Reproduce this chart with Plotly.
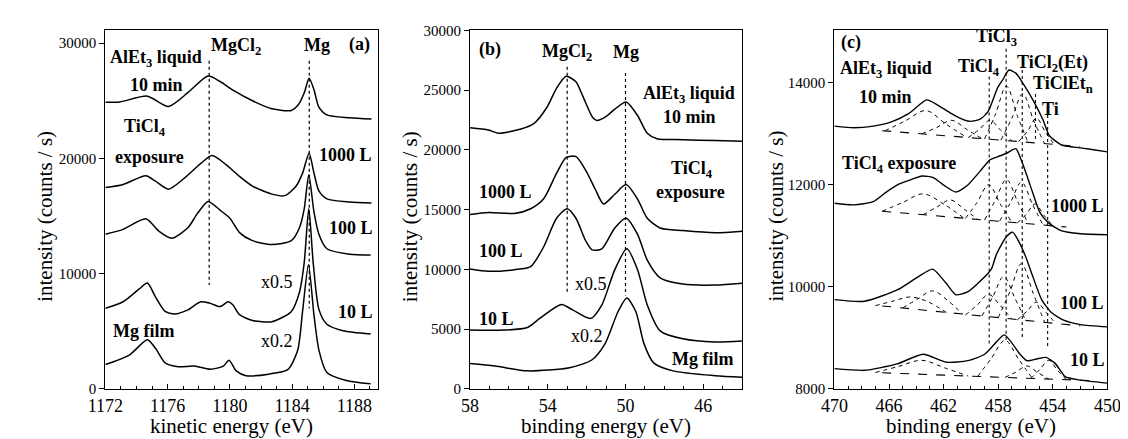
import plotly.graph_objects as go

W, H = 1128, 439
FONT = "Liberation Serif"

# ---------------- Panel (a): kinetic energy ----------------
a_alet_x = [1172.0, 1172.93, 1174.7, 1176.05, 1177.3, 1178.6, 1179.37, 1180.2, 1181.45, 1182.7, 1183.95, 1184.36, 1184.78, 1185.09, 1185.4, 1185.72, 1186.23, 1187.69, 1189.1]
a_alet_y = [24860, 24900, 25400, 24500, 25700, 27150, 26670, 25920, 25000, 24300, 24160, 24580, 25700, 26950, 25970, 24440, 23770, 23520, 23410]

a_1000_x = [1172.0, 1173.14, 1174.6, 1175.22, 1176.05, 1177.09, 1178.13, 1178.86, 1179.79, 1180.62, 1181.45, 1182.7, 1183.53, 1184.26, 1184.67, 1185.09, 1185.4, 1185.72, 1186.23, 1187.69, 1189.1]
a_1000_y = [17470, 17740, 18500, 18020, 17330, 18300, 19560, 20250, 19420, 18440, 17600, 16900, 16770, 17600, 18720, 20450, 18750, 17180, 16490, 16210, 16130]

a_100_x = [1172.0, 1173.14, 1174.6, 1175.43, 1176.26, 1177.3, 1177.92, 1178.6, 1179.37, 1180.0, 1180.62, 1181.45, 1182.7, 1183.95, 1184.47, 1184.78, 1185.07, 1185.4, 1185.72, 1186.23, 1187.69, 1189.04]
a_100_y = [13420, 13840, 14760, 13700, 13080, 13980, 15230, 16260, 15510, 14810, 13560, 12860, 12530, 12860, 13980, 15650, 18580, 15380, 13420, 12160, 11690, 11610]

a_10_x = [1172.0, 1173.14, 1174.18, 1174.7, 1175.22, 1175.84, 1176.46, 1177.3, 1178.13, 1178.75, 1179.37, 1179.89, 1180.2, 1180.62, 1181.45, 1182.7, 1183.95, 1184.47, 1184.78, 1185.07, 1185.35, 1185.72, 1186.23, 1187.27, 1189.04]
a_10_y = [7000, 7560, 8680, 9180, 7980, 6720, 6500, 6860, 7560, 7420, 7140, 7560, 7280, 6440, 5940, 5830, 6720, 8390, 11000, 15650, 11000, 6900, 5610, 5050, 4770]

a_mg_x = [1172.0, 1173.56, 1174.7, 1175.22, 1175.84, 1176.67, 1177.71, 1178.75, 1179.58, 1179.94, 1180.41, 1181.04, 1182.49, 1183.74, 1184.36, 1184.67, 1185.05, 1185.4, 1185.72, 1186.23, 1187.48, 1189.04]
a_mg_y = [2120, 2960, 4270, 3520, 2260, 1930, 1980, 1700, 1980, 2480, 1560, 1150, 1280, 1700, 3370, 6720, 10770, 6440, 3370, 1420, 730, 440]

a_ref_x = [1178.67, 1185.1]
a_ref_top = [28480, 28480]
a_ref_bot = [9010, 7000]

# ---------------- Panel (b): Mg 2p binding energy ----------------
b_alet_x = [58.0, 57.05, 56.55, 55.38, 54.72, 54.05, 53.55, 53.05, 52.55, 52.3, 52.05, 51.7, 51.47, 51.05, 50.55, 49.97, 49.38, 48.88, 48.38, 47.05, 45.38, 44.0]
b_alet_y = [21860, 21670, 21400, 21750, 22200, 23550, 25160, 26160, 25700, 24890, 23950, 22740, 22470, 22740, 23410, 24010, 22880, 21400, 20940, 20860, 20780, 20730]

b_1000_x = [58.0, 57.05, 55.72, 54.88, 54.22, 53.55, 53.05, 52.55, 52.05, 51.55, 51.13, 50.55, 49.97, 49.38, 48.88, 48.22, 47.05, 45.38, 44.0]
b_1000_y = [14600, 14760, 14680, 15080, 15890, 18040, 19380, 19440, 18310, 16690, 15480, 16290, 17100, 15890, 14280, 13470, 13250, 13070, 13200]

b_100_x = [58.0, 57.05, 55.72, 54.88, 54.22, 53.55, 53.0, 52.55, 52.05, 51.72, 51.22, 50.55, 49.97, 49.38, 48.88, 48.22, 47.05, 45.38, 44.0]
b_100_y = [10030, 9840, 9980, 10240, 11860, 14280, 15080, 14280, 12400, 11640, 11720, 13470, 14280, 12930, 10780, 9300, 8770, 8690, 8850]

b_10_x = [58.0, 56.25, 55.05, 54.38, 53.3, 52.72, 51.8, 51.22, 50.55, 49.93, 49.38, 48.88, 48.22, 47.05, 45.38, 44.0]
b_10_y = [4920, 4920, 5140, 5940, 7070, 6610, 5890, 7020, 9980, 11720, 9980, 7020, 4860, 4190, 3930, 4010]

b_mg_x = [58.0, 56.72, 55.05, 52.88, 51.72, 51.05, 50.38, 49.93, 49.47, 49.05, 48.55, 47.55, 45.38, 44.0]
b_mg_y = [2120, 1910, 1510, 1770, 2440, 3790, 6480, 7600, 6480, 3790, 2180, 1510, 1100, 970]

b_ref_x = [53.0, 50.0]
b_ref_top = [26960, 26430]
b_ref_bot = [7880, 7820]

# ---------------- Panel (c): Ti 2p binding energy ----------------
c_alet_x = [470.0, 468.58, 467.15, 465.73, 464.54, 463.24, 462.41, 461.46, 460.51, 460.04, 459.32, 458.75, 458.04, 457.66, 457.21, 456.71, 456.14, 455.43, 454.72, 454.25, 453.3, 452.44, 451.26, 450.0]
c_alet_y = [13146, 13114, 13146, 13240, 13397, 13661, 13554, 13397, 13270, 13240, 13284, 13429, 13900, 14057, 14246, 14184, 13963, 13647, 13270, 12957, 12768, 12736, 12693, 12642]

c_1000_x = [470.0, 468.58, 467.15, 466.2, 465.25, 464.3, 463.59, 462.76, 461.94, 461.1, 460.27, 459.32, 458.61, 458.02, 457.42, 456.71, 456.36, 455.89, 455.41, 454.93, 454.34, 453.4, 451.97, 450.0]
c_1000_y = [11636, 11604, 11667, 11855, 12014, 12108, 12170, 12138, 11982, 11855, 11982, 12265, 12485, 12548, 12610, 12705, 12516, 12170, 11793, 11447, 11258, 11100, 11038, 11019]

c_100_x = [470.0, 467.8, 465.4, 463.9, 462.8, 461.8, 461.1, 460.2, 459.25, 458.5, 458.14, 457.42, 456.95, 456.48, 456.0, 455.53, 454.82, 454.11, 453.16, 451.97, 450.0]
c_100_y = [9749, 9717, 9937, 10189, 10346, 10063, 9843, 9906, 10126, 10346, 10629, 10976, 11070, 10881, 10598, 10251, 9749, 9496, 9340, 9259, 9214]

c_10_x = [470.0, 467.8, 465.4, 463.5, 461.8, 460.2, 459.0, 458.3, 457.55, 456.4, 455.9, 455.2, 454.5, 453.8, 453.1, 452.1, 450.0]
c_10_y = [8396, 8364, 8490, 8679, 8522, 8553, 8679, 8868, 9057, 8679, 8553, 8585, 8617, 8490, 8240, 8176, 8113]

# fitted backgrounds (long dashes)
c_bg = [
    ([466.5, 452.0], [13057, 12748]),
    ([466.5, 453.0], [11480, 11170]),
    ([466.5, 452.0], [9625, 9234]),
    ([466.5, 451.0], [8315, 8160]),
]

# fitted components (short dashes)
c_comp_alet = [
    ([466.3, 464.8, 463.3, 461.8, 460.3], [13053, 13250, 13450, 13180, 12924]),
    ([463.6, 462.5, 461.4, 460.3, 459.2], [12995, 13120, 13260, 13080, 12903]),
    ([460.2, 459.4, 458.6, 457.8, 457.0], [12922, 13080, 13260, 13060, 12855]),
    ([459.0, 458.2, 457.4, 456.6, 455.8], [12897, 13380, 13930, 13350, 12820]),
    ([457.8, 457.0, 456.2, 455.4, 454.6], [12872, 13300, 13780, 13250, 12800]),
    ([456.5, 455.85, 455.2, 454.55, 453.9], [12844, 13050, 13300, 13030, 12787]),
]
c_comp_1000 = [
    ([466.5, 465.0, 463.5, 462.0, 460.5], [11480, 11650, 11820, 11620, 11342]),
    ([463.5, 462.5, 461.5, 460.5, 459.5], [11411, 11560, 11700, 11520, 11320]),
    ([460.4, 459.55, 458.7, 457.85, 457.0], [11340, 11650, 12000, 11620, 11262]),
    ([459.0, 458.2, 457.4, 456.6, 455.8], [11308, 11700, 12100, 11680, 11235]),
    ([457.9, 457.1, 456.3, 455.5, 454.7], [11287, 11650, 12050, 11620, 11200]),
    ([456.6, 455.95, 455.3, 454.65, 454.0], [11250, 11420, 11620, 11400, 11193]),
]
c_comp_100 = [
    ([467.0, 465.7, 464.4, 463.1, 461.8], [9630, 9720, 9800, 9700, 9497]),
    ([465.0, 463.9, 462.8, 461.7, 460.6], [9585, 9760, 9920, 9730, 9465]),
    ([460.4, 459.55, 458.7, 457.85, 457.0], [9447, 9640, 9850, 9630, 9368]),
    ([459.2, 458.4, 457.6, 456.8, 456.0], [9428, 9800, 10200, 9790, 9342]),
    ([458.0, 457.15, 456.3, 455.45, 454.6], [9396, 9900, 10450, 9880, 9304]),
    ([456.6, 455.9, 455.2, 454.5, 453.8], [9352, 9520, 9700, 9500, 9282]),
]
c_comp_10 = [
    ([467.0, 465.3, 463.6, 461.9, 460.2], [8320, 8440, 8560, 8410, 8252]),
    ([459.5, 458.5, 457.5, 456.5, 455.5], [8245, 8600, 8950, 8580, 8205]),
    ([457.5, 456.7, 455.9, 455.1, 454.3], [8225, 8330, 8450, 8320, 8193]),
    ([455.6, 454.95, 454.3, 453.65, 453.0], [8206, 8380, 8560, 8360, 8180]),
]

c_ref_x = [458.66, 457.42, 456.24, 455.27, 454.38]
c_ref_top = [14120, 14660, 14246, 13774, 13365]
c_ref_bot = [8870, 8960, 8960, 12900, 8836]

# ---------------- Figure ----------------
fig = go.Figure()


def curve(x, y, xa, ya, width=1.5, dash="solid", smoothing=0.7, shape="spline"):
    line = dict(color="black", width=width, dash=dash, shape=shape)
    if shape == "spline":
        line["smoothing"] = smoothing
    fig.add_trace(go.Scatter(x=x, y=y, xaxis=xa, yaxis=ya, mode="lines",
                             line=line, hoverinfo="skip", showlegend=False))


for xs, ys in [(a_alet_x, a_alet_y), (a_1000_x, a_1000_y), (a_100_x, a_100_y),
               (a_10_x, a_10_y), (a_mg_x, a_mg_y)]:
    curve(xs, ys, "x", "y")
for xv, t, b in zip(a_ref_x, a_ref_top, a_ref_bot):
    curve([xv, xv], [t, b], "x", "y", width=1.2, dash="dot", shape="linear")

for xs, ys in [(b_alet_x, b_alet_y), (b_1000_x, b_1000_y), (b_100_x, b_100_y),
               (b_10_x, b_10_y), (b_mg_x, b_mg_y)]:
    curve(xs, ys, "x2", "y2")
for xv, t, b in zip(b_ref_x, b_ref_top, b_ref_bot):
    curve([xv, xv], [t, b], "x2", "y2", width=1.2, dash="dot", shape="linear")

for xs, ys in c_bg:
    curve(xs, ys, "x3", "y3", width=1.1, dash="dash", shape="linear")
for comps in [c_comp_alet, c_comp_1000, c_comp_100, c_comp_10]:
    for xs, ys in comps:
        curve(xs, ys, "x3", "y3", width=1.0, dash="4px,4px", smoothing=1.0)
for xs, ys in [(c_alet_x, c_alet_y), (c_1000_x, c_1000_y), (c_100_x, c_100_y), (c_10_x, c_10_y)]:
    curve(xs, ys, "x3", "y3", width=1.4, smoothing=0.6)
for xv, t, b in zip(c_ref_x, c_ref_top, c_ref_bot):
    curve([xv, xv], [t, b], "x3", "y3", width=1.1, dash="dot", shape="linear")


def xax(dom, rng, tickvals, anchor):
    return dict(domain=dom, range=rng, tickvals=tickvals, ticks="inside", ticklen=5,
                tickcolor="black", showline=True, linecolor="black", linewidth=1.2,
                mirror=True, showgrid=False, zeroline=False, anchor=anchor,
                tickformat="d",
                tickfont=dict(family=FONT, size=18, color="black"),
                minor=dict(ticks="inside", dtick=1, ticklen=3, tickcolor="black"))


def yax(dom, rng, tickvals, anchor):
    return dict(domain=dom, range=rng, tickvals=tickvals, ticks="outside", ticklen=5,
                tickcolor="black", showline=True, linecolor="black", linewidth=1.2,
                mirror=True, showgrid=False, zeroline=False, anchor=anchor,
                tickformat="d",
                tickfont=dict(family=FONT, size=15, color="black"))


ydom = [1 - 387 / H, 1 - 15 / H]
fig.update_layout(
    width=W, height=H, margin=dict(l=0, r=0, t=0, b=0),
    paper_bgcolor="white", plot_bgcolor="white", showlegend=False,
    font=dict(family=FONT, color="black", size=16),
    xaxis=xax([81.7 / W, 362 / W], [1172, 1189.5], [1172, 1176, 1180, 1184, 1188], "y"),
    yaxis=yax(ydom, [0, 31100], [0, 10000, 20000, 30000], "x"),
    xaxis2=xax([457 / W, 737 / W], [58, 44], [58, 54, 50, 46], "y2"),
    yaxis2=yax(ydom, [0, 30000], [0, 5000, 10000, 15000, 20000, 25000, 30000], "x2"),
    xaxis3=xax([832 / W, 1113 / W], [470, 450], [470, 466, 462, 458, 454, 450], "y3"),
    yaxis3=yax(ydom, [8000, 15020], [8000, 10000, 12000, 14000], "x3"),
)

labels = [
    # panel a
    (134, 44, "AlEt<sub>3</sub> liquid", True), (134, 72, "10 min", True),
    (122, 116, "TiCl<sub>4</sub>", True), (127, 146, "exposure", True),
    (216, 32, "MgCl<sub>2</sub>", True), (299, 30, "Mg", True), (343, 30, "(a)", True),
    (329, 144, "1000 L", True), (335, 220, "100 L", True), (258, 276, "x0.5", False),
    (339, 307, "10 L", True), (121, 327, "Mg film", True), (258, 337, "x0.2", False),
    # panel b
    (478, 35, "(b)", True), (557, 38, "MgCl<sub>2</sub>", True), (618, 37, "Mg", True),
    (682, 81, "AlEt<sub>3</sub> liquid", True), (683, 105, "10 min", True),
    (685, 159, "TiCl<sub>4</sub>", True), (684, 183, "exposure", True),
    (494, 183, "1000 L", True), (489, 244, "100 L", True), (581, 278, "x0.5", False),
    (484, 314, "10 L", True), (577, 332, "x0.2", False), (696, 356, "Mg film", True),
    # panel c
    (849, 28, "(c)", True), (885, 56, "AlEt<sub>3</sub> liquid", True), (885, 84, "10 min", True),
    (999, 22, "TiCl<sub>3</sub>", True), (981, 53, "TiCl<sub>4</sub>", True),
    (1056, 49, "TiCl<sub>2</sub>(Et)", True), (1067, 71, "TiClEt<sub>n</sub>", True),
    (1054, 97, "Ti", True), (898, 154, "TiCl<sub>4</sub> exposure", True),
    (1082, 197, "1000 L", True), (1087, 298, "100 L", True), (1092, 357, "10 L", True),
]
annotations = []
for px, py, txt, bold in labels:
    annotations.append(dict(
        x=px / W, y=1 - py / H, xref="paper", yref="paper", showarrow=False,
        text=f"<b>{txt}</b>" if bold else txt, xanchor="center", yanchor="middle",
        font=dict(family=FONT, size=18, color="black")))

for px in [20, 396, 772]:
    annotations.append(dict(
        x=px / W, y=1 - 208 / H, xref="paper", yref="paper", showarrow=False,
        text="intensity (counts / s)", textangle=-90, xanchor="center", yanchor="middle",
        font=dict(family=FONT, size=21, color="black")))
for px, txt in [(212, "kinetic energy (eV)"), (597, "binding energy (eV)"), (973, "binding energy (eV)")]:
    annotations.append(dict(
        x=px / W, y=1 - 426 / H, xref="paper", yref="paper", showarrow=False,
        text=txt, xanchor="center", yanchor="middle",
        font=dict(family=FONT, size=21, color="black")))

fig.update_layout(annotations=annotations)
fig.write_html("out.html")
